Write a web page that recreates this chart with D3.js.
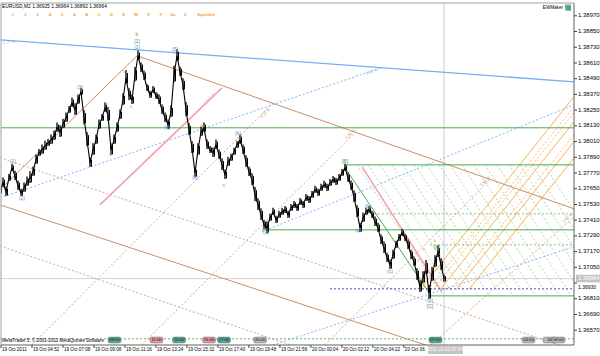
<!DOCTYPE html>
<html><head><meta charset="utf-8">
<script src="https://cdn.jsdelivr.net/npm/d3@7"></script>
<style>
body{margin:0;background:#fff;}
svg text{font-family:"Liberation Sans",Arial,sans-serif;}
</style></head>
<body><svg id="c" width="600" height="356"></svg>
<script>
// ---------- DATA ----------
const title = "EURUSD,M2  1.36925 1.36964 1.36892 1.36964";
const waveNames = ["1","2","3","4","5","A","B","C","D","E","W","X","Y","Za","Z","Equilibre"];
const yTicks = [1.36570,1.36690,1.36810,1.36930,1.37050,1.37170,1.37290,1.37410,1.37530,1.37650,1.37770,1.37890,1.38010,1.38130,1.38250,1.38370,1.38490,1.38610,1.38730,1.38850,1.38970];
const xLabels = ["19 Oct 2011","19 Oct 04:52","19 Oct 07:08","19 Oct 09:08","19 Oct 11:16","19 Oct 13:24","19 Oct 15:32","19 Oct 17:40","19 Oct 19:48","19 Oct 21:56","20 Oct 00:04","20 Oct 02:12","20 Oct 04:22","20 Oct 06:30"];
const lastPrice = 1.36964;
const cursorTime = "2011.10.20 07:04";
const cursorBar = 148;
// closes, one per bar
const closes = [1.37642,1.37695,1.37626,1.37733,1.37810,1.37748,1.37672,1.37619,1.37657,1.37703,
1.37733,1.37779,1.37871,1.37924,1.37947,1.37977,1.38000,1.38023,1.38054,1.38115,
1.38084,1.38145,1.38191,1.38252,1.38306,1.38252,1.38329,1.38390,1.38191,1.38023,
1.37848,1.37947,1.38023,1.38138,1.38191,1.38268,1.38214,1.37947,1.38023,1.38115,
1.38214,1.38329,1.38497,1.38367,1.38329,1.38519,1.38665,1.38573,1.38512,1.38420,
1.38367,1.38405,1.38359,1.38329,1.38252,1.38191,1.38138,1.38237,1.38519,1.38665,
1.38542,1.38443,1.38252,1.38100,1.37962,1.37771,1.37947,1.38084,1.38115,1.37985,
1.37947,1.37924,1.37985,1.37909,1.37832,1.37756,1.37855,1.37886,1.37932,1.37985,
1.38023,1.37947,1.37855,1.37779,1.37718,1.37603,1.37527,1.37451,1.37374,1.37351,
1.37428,1.37474,1.37413,1.37451,1.37474,1.37489,1.37451,1.37504,1.37527,1.37504,
1.37550,1.37527,1.37580,1.37565,1.37603,1.37642,1.37619,1.37657,1.37680,1.37657,
1.37695,1.37718,1.37703,1.37733,1.37771,1.37810,1.37733,1.37672,1.37588,1.37474,
1.37351,1.37428,1.37474,1.37489,1.37451,1.37397,1.37351,1.37260,1.37199,1.37122,
1.37069,1.37145,1.37222,1.37275,1.37313,1.37275,1.37222,1.37145,1.37092,1.36993,
1.36901,1.36970,1.37046,1.36855,1.36993,1.37092,1.37168,1.37069,1.36964];
// bar half-ranges (price units), read as the visible spread of the bar cluster
const ranges = [0.0004,0.0004,0.0004,0.0003,0.0003,0.0004,0.0004,0.0003,0.0004,0.0004,
0.0005,0.0004,0.0004,0.0003,0.0004,0.0004,0.0003,0.0004,0.0004,0.0004,
0.0005,0.0004,0.0004,0.0003,0.0004,0.0005,0.0004,0.0003,0.0006,0.0006,
0.0004,0.0005,0.0004,0.0004,0.0003,0.0004,0.0006,0.0005,0.0004,0.0004,
0.0004,0.0005,0.0006,0.0005,0.0004,0.0006,0.0004,0.0004,0.0004,0.0003,
0.0003,0.0003,0.0003,0.0004,0.0004,0.0004,0.0004,0.0005,0.0007,0.0005,
0.0004,0.0005,0.0006,0.0005,0.0005,0.0004,0.0005,0.0004,0.0004,0.0004,
0.0003,0.0004,0.0004,0.0004,0.0005,0.0004,0.0004,0.0003,0.0003,0.0003,
0.0004,0.0004,0.0005,0.0004,0.0005,0.0006,0.0005,0.0005,0.0004,0.0005,
0.0003,0.0003,0.0003,0.0003,0.0003,0.0003,0.0003,0.0003,0.0003,0.0003,
0.0003,0.0003,0.0003,0.0003,0.0003,0.0003,0.0003,0.0003,0.0003,0.0003,
0.0003,0.0003,0.0003,0.0003,0.0003,0.0003,0.0004,0.0004,0.0005,0.0005,
0.0004,0.0004,0.0003,0.0003,0.0003,0.0004,0.0004,0.0004,0.0005,0.0004,
0.0004,0.0004,0.0003,0.0003,0.0003,0.0003,0.0004,0.0004,0.0004,0.0005,
0.0005,0.0005,0.0006,0.0006,0.0006,0.0005,0.0005,0.0005,0.0003];

// drawn objects: [bar, price] endpoints
const blueSolid   = [[0,1.38787],[191.3,1.38466]];
const greenLevels = [[0,1.38115],[115,1.37832],[87.3,1.37336],[143,1.36832]]; // [startBar, price]
const greenDiag   = [[115,1.37810],[143,1.36855]];
const navyLevel   = [110,1.36886];
const bottomLevel = 1.36504;
const brownSolid  = [[[0,1.37642],[45.67,1.38665]],[[45.67,1.38665],[191.3,1.37497]],[[0,1.37527],[145.7,1.36428]]];
const brownDash   = [[[0,1.37886],[191.3,1.36420]],[[0,1.37214],[96.7,1.36458]],
                     [[10.7,1.36458],[91,1.38306]],[[47.3,1.36458],[118.3,1.38077]],
                     [[108.3,1.36458],[163.3,1.37718]],[[143.7,1.36458],[191.3,1.37435]]];
const pinkLines   = [[[33.3,1.37527],[74,1.38420]],[[120.7,1.37817],[147.3,1.36863]]];
const blueDash    = [[[0,1.37580],[127,1.38573]],[[91,1.36458],[191.3,1.37206]],[[87.3,1.37321],[191.3,1.38290]]];
const gridStartBars = [119,122.7,126.7,130.7,134.3,138.3,142.3,146.3,150,154,158,161.7,165.7,169.7,173.3,177.3,181.3];
const gridTop = 1.37832, gridBottom = 1.36832, gridRun = 28.7;
const gridDashLevels = [[123.3,1.37458],[143.3,1.37222]];
const orangeLines = [[140,1.38352],[142.7,1.38275],[144,1.38229],[146.7,1.38161],[150,1.38061],[152,1.38008],[156,1.37886]]; // [startBar, endPrice]
const orangeSolid = [true,false,false,true,false,true,true];
const orangeBase = 1.36878;
const waveLabels = [
 ["(1)",4.33,1.37855,"b"],["(2)",7.33,1.37573,"b"],["(3)",26.67,1.38420,"b"],["(4)",55.67,1.38115,"b"],
 ["(5)",58.33,1.38710,"b"],["(3)",45.67,1.38726,"b"],["[1]",45.67,1.38771,"g"],["b",45.67,1.38825,"r"],
 ["(a)",65,1.37733,"b"],["(b)",79.33,1.38069,"b"],["(c)",88.67,1.37313,"b"],["[B]",115,1.37855,"g"],
 ["(a)",119.33,1.37328,"b"],["(b)",122.67,1.37512,"b"],["(c)",130,1.37016,"b"],["(5)",143.33,1.36794,"b"],
 ["[C]",143.33,1.36748,"g"],["[A]",145.67,1.37199,"g"],
 ["3",35.67,1.38298,"o"],["4",36.67,1.37909,"o"],["5",41.33,1.38542,"o"],["4",43.67,1.38275,"o"],
 ["A",67.33,1.38130,"o"],["B",74.67,1.37672,"o"],["C",79.6,1.38030,"o"],
 ["1",139.5,1.37100,"o"],["2",140.5,1.36960,"o"],["3",141.3,1.37180,"o"],["4",142,1.37030,"o"],
 ["a",144.5,1.37050,"o"],["b",145,1.37250,"o"],["c",146.5,1.37150,"o"],["i",147.2,1.36950,"o"],["ii",141.8,1.36900,"o"]];
// rotated percentage texts: [text, bar, price, angle]
const pctLabels = [["2.50 %",124,1.38535,-19],["1.618 %",70,1.38330,-42],["4.32 %",88.7,1.38220,-45],
                   ["1.00 %",117,1.38060,-45],["1.50 %",162,1.37700,-45],["1.82 %",189.5,1.37420,-42],["1.75 %",3,1.38760,-5]];
const tagTexts = ["09:00","11:00","13:00","15:00","17:00","20:00","07:00","04:00","16","09:00"];
const tagBars  = [36,50,57.5,67.5,72.5,84.5,143,174,181,184];
const tagKinds = ["t","p","t","p","t","g","t","g","g","g"];

// ---------- SCALES ----------
const svg = d3.select("#c");
const PL=1, PT=3, PR=574, PB=345;
const x = d3.scaleLinear().domain([0,191]).range([0,573]);
const y = d3.scaleLinear().domain([1.36570,1.38970]).range([330.2,15.8]);
const col = {b:"#5b8fe0", g:"#3a9a3a", r:"#b0705a", o:"#f39c2a", brown:"#c8906e", pink:"#f4a0b4", blueL:"#74aef5", green:"#4aaa4a", gridG:"#78c078", orange:"#ffa640"};

svg.append("rect").attr("width",600).attr("height",356).attr("fill","#fff");
svg.append("defs").append("clipPath").attr("id","pc").append("rect")
  .attr("x",PL).attr("y",PT).attr("width",PR-PL).attr("height",PB-PT);
const g = svg.append("g").attr("clip-path","url(#pc)");

function seg(p, stroke, w, dash){
  g.append("line").attr("x1",x(p[0][0])).attr("y1",y(p[0][1])).attr("x2",x(p[1][0])).attr("y2",y(p[1][1]))
   .attr("stroke",stroke).attr("stroke-width",w).attr("stroke-dasharray",dash||null);
}
seg([[0,lastPrice],[191.3,lastPrice]],"#d4d4d4",1);
g.append("line").attr("x1",x(cursorBar)).attr("x2",x(cursorBar)).attr("y1",PT).attr("y2",PB).attr("stroke","#cccccc");
seg([[0,bottomLevel],[191.3,bottomLevel]],"#3aa03a",0.8,"2,2");

brownDash.forEach(p=>seg(p,col.brown,0.8,"2,2"));
blueDash.forEach(p=>seg(p,col.blueL,0.9,"2,2"));
gridStartBars.forEach(b=>seg([[b,gridTop],[b+gridRun,gridBottom]],col.gridG,0.6,"2,2"));
gridDashLevels.forEach(l=>seg([[l[0],l[1]],[191.3,l[1]]],"#5cb85c",0.8,"2,2"));
orangeLines.forEach((l,i)=>{
  const run=(l[1]-orangeBase)/(1.38352-orangeBase)*51.3;
  seg([[191.3-run,orangeBase],[191.3,l[1]]],col.orange,orangeSolid[i]?0.9:0.8,orangeSolid[i]?null:"2,2");
});
pinkLines.forEach(p=>seg(p,col.pink,1.6));
brownSolid.forEach(p=>seg(p,col.brown,1));
seg(blueSolid,col.blueL,1.3);
greenLevels.forEach(l=>seg([[l[0],l[1]],[191.3,l[1]]],col.green,1));
seg(greenDiag,col.green,1);
seg([[navyLevel[0],navyLevel[1]],[191.3,navyLevel[1]]],"#3b3bc8",0.9,"2,2");

// rotated percentage labels
g.selectAll(".pl").data(pctLabels).join("text")
 .attr("transform",d=>`translate(${x(d[1])},${y(d[2])}) rotate(${d[3]})`)
 .attr("text-anchor","middle").attr("font-size",4).attr("fill",(d,i)=>i==0||i==6?col.blueL:(i==1?col.pink:col.brown)).text(d=>d[0]);

// price bars
g.append("path").datum(closes).attr("fill","none").attr("stroke","#000").attr("stroke-width",1.1)
 .attr("d",d3.line().x((d,i)=>x(i)).y(d=>y(d)));
g.selectAll(".bar").data(closes).join("line")
 .attr("x1",(d,i)=>x(i)).attr("x2",(d,i)=>x(i))
 .attr("y1",(d,i)=>y(d+ranges[i])).attr("y2",(d,i)=>y(d-ranges[i]*0.8)).attr("stroke","#000").attr("stroke-width",1.3);
g.selectAll(".bar2").data(closes).join("line")
 .attr("x1",(d,i)=>x(i)+1.5).attr("x2",(d,i)=>x(i)+1.5)
 .attr("y1",(d,i)=>y(d+ranges[i]*0.6)).attr("y2",(d,i)=>y(d-ranges[i]*0.7)).attr("stroke","#000").attr("stroke-width",1);

// wave labels
g.selectAll(".wl").data(waveLabels).join("text")
 .attr("x",d=>x(d[1])).attr("y",d=>y(d[2])).attr("text-anchor","middle").attr("dominant-baseline","middle")
 .attr("font-size",d=>d[3]=="o"?4.2:5).attr("fill",d=>col[d[3]]).text(d=>d[0]);

// frame & axes
svg.append("line").attr("x1",PL).attr("x2",PR).attr("y1",PT).attr("y2",PT).attr("stroke","#a0a0a0");
svg.append("line").attr("x1",PL).attr("x2",PL).attr("y1",PT).attr("y2",PB).attr("stroke","#a0a0a0");
svg.append("line").attr("x1",PR).attr("x2",PR).attr("y1",PT).attr("y2",PB).attr("stroke","#606060");
svg.append("line").attr("x1",PL).attr("x2",PR).attr("y1",PB).attr("y2",PB).attr("stroke","#606060");

const yAxis = svg.append("g");
yTicks.forEach(v=>{
  yAxis.append("line").attr("x1",PR).attr("x2",PR+3).attr("y1",y(v)).attr("y2",y(v)).attr("stroke","#404040");
  if (Math.abs(y(v)-y(lastPrice))>5)
    yAxis.append("text").attr("x",PR+4).attr("y",y(v)).attr("dominant-baseline","middle").attr("font-size",6).attr("fill","#000").text(v.toFixed(5));
});
yAxis.append("rect").attr("x",PR+2).attr("y",y(lastPrice)-3.8).attr("width",25).attr("height",7.6).attr("fill","#c4c4c4");
yAxis.append("text").attr("x",PR+4).attr("y",y(lastPrice)).attr("dominant-baseline","middle").attr("font-size",6).attr("fill","#fff").text(lastPrice.toFixed(5));
yAxis.append("text").attr("x",PR+4).attr("y",y(1.36930)+4.5).attr("dominant-baseline","middle").attr("font-size",5).attr("fill","#000").text("1.36930");

const xAxis = svg.append("g");
xLabels.forEach((t,i)=>{
  const xx = x(i*10.33)+1;
  xAxis.append("line").attr("x1",xx).attr("x2",xx).attr("y1",PB).attr("y2",PB+3).attr("stroke","#404040");
  xAxis.append("text").attr("x",xx+1).attr("y",350).attr("dominant-baseline","middle").attr("font-size",4.6).attr("fill","#000")
    .text(i==xLabels.length-1 ? t.slice(0,9) : t);
});
xAxis.append("rect").attr("x",x(cursorBar)-16).attr("y",346).attr("width",35).attr("height",8).attr("fill","#c4c4c4");
xAxis.append("text").attr("x",x(cursorBar)+1).attr("y",350).attr("text-anchor","middle").attr("dominant-baseline","middle").attr("font-size",4.6).attr("fill","#fff").text(cursorTime);

// bottom tags
const tagCol = {t:"#5aa89a", p:"#e39aa8", g:"#b8b8b8"};
tagTexts.forEach((t,i)=>{
  const xx = x(tagBars[i]);
  svg.append("rect").attr("x",xx).attr("y",337).attr("width",13).attr("height",6).attr("rx",2).attr("fill",tagCol[tagKinds[i]]).attr("stroke","#555").attr("stroke-width",0.4);
  svg.append("text").attr("x",xx+6.5).attr("y",340.3).attr("text-anchor","middle").attr("dominant-baseline","middle").attr("font-size",4.2).attr("fill","#000").text(t);
});
svg.append("text").attr("x",2).attr("y",341).attr("dominant-baseline","middle").attr("font-size",4.6).attr("fill","#000").text("MetaTrader 5, © 2001-2011 MetaQuotes Software");

// header
svg.append("text").attr("x",2).attr("y",6.5).attr("dominant-baseline","middle").attr("font-size",4.9).attr("fill","#000").text(title);
waveNames.forEach((t,i)=>{
  svg.append("text").attr("x",13+i*12.3).attr("y",15).attr("text-anchor",i==15?"start":"middle").attr("dominant-baseline","middle").attr("font-size",4.2).attr("font-weight","bold").attr("fill","#f0a030").text(t);
});
svg.append("text").attr("x",563).attr("y",7.5).attr("text-anchor","end").attr("dominant-baseline","middle").attr("font-size",4.6).attr("fill","#000").text("EWMaker");
svg.append("rect").attr("x",565).attr("y",4.5).attr("width",6).attr("height",6).attr("fill","#6aa0d0");
svg.append("rect").attr("x",567).attr("y",6.5).attr("width",4).attr("height",4).attr("fill","#50b050");
</script></body></html>
